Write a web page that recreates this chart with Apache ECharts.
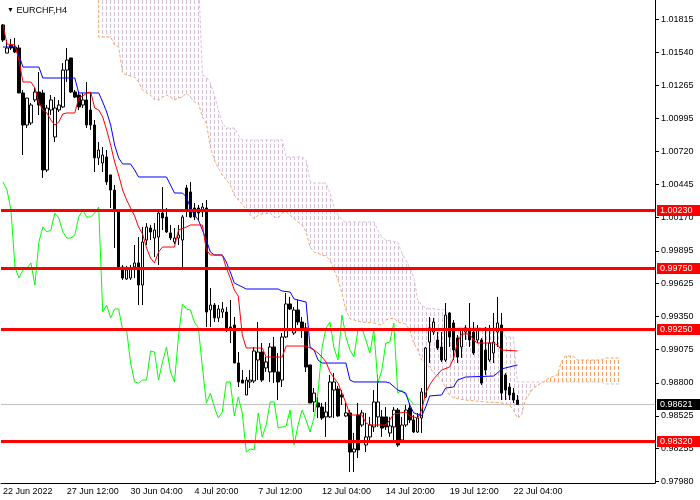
<!DOCTYPE html>
<html>
<head>
<meta charset="utf-8">
<title>EURCHF,H4</title>
<script src="https://cdn.jsdelivr.net/npm/echarts@6/dist/echarts.min.js"></script>
<style>
html,body{margin:0;padding:0;background:#fff;}
#main{width:700px;height:500px;}
</style>
</head>
<body>
<div id="main"></div>
<script>
var symbolName = 'EURCHF,H4';
var slotCount = 164;
var labelStep = 16;
var timeLabels = ['22 Jun 2022', '27 Jun 12:00', '30 Jun 04:00', '4 Jul 20:00', '7 Jul 12:00',
	'12 Jul 04:00', '14 Jul 20:00', '19 Jul 12:00', '22 Jul 04:00'];
var priceTicks = [1.01815, 1.01540, 1.01265, 1.00995, 1.00720, 1.00445, 1.00170, 0.99895,
	0.99625, 0.99350, 0.99075, 0.98800, 0.98525, 0.98255, 0.97980];
var priceMin = 0.97969;
var priceMax = 1.01975;
var levels = [1.00230, 0.99750, 0.99250, 0.98320];
var lastPrice = 0.98621;
var chikouShift = 26;

// [open, close, low, high]
var ohlc = [
	[1.01768, 1.01643, 1.01627, 1.01776], [1.01535, 1.01577, 1.01535, 1.01643], [1.01602, 1.01577, 1.01560, 1.01652], [1.01585, 1.01544, 1.01535, 1.01660], [1.01577, 1.01204, 1.01204, 1.01602],
	[1.01204, 1.00938, 1.00689, 1.01229], [1.00938, 1.01162, 1.00913, 1.01162], [1.00955, 1.01104, 1.00938, 1.01121], [1.01146, 1.01212, 1.01129, 1.01245], [1.01212, 1.01104, 1.01021, 1.01378],
	[1.01204, 1.00565, 1.00499, 1.01229], [1.00565, 1.01079, 1.00548, 1.01104], [1.01063, 1.01146, 1.01021, 1.01187], [1.00839, 1.01079, 1.00797, 1.01170], [1.01063, 1.01104, 1.01046, 1.01146],
	[1.01088, 1.01394, 1.01079, 1.01452], [1.01394, 1.01477, 1.01295, 1.01577], [1.01494, 1.01212, 1.01204, 1.01494], [1.01212, 1.01170, 1.01162, 1.01229], [1.01187, 1.01088, 1.01063, 1.01212],
	[1.01104, 1.01146, 1.01079, 1.01204], [1.01146, 1.00938, 1.00913, 1.01295], [1.01063, 1.00938, 1.00897, 1.01204], [1.00938, 1.00665, 1.00548, 1.00980], [1.00665, 1.00731, 1.00607, 1.00797],
	[1.00623, 1.00689, 1.00548, 1.00756], [1.00673, 1.00466, 1.00441, 1.00731], [1.00524, 1.00399, 1.00250, 1.00524], [1.00399, 1.00233, 0.99918, 1.00441], [1.00233, 0.99761, 0.99752, 1.00233],
	[0.99761, 0.99669, 0.99653, 0.99777], [0.99661, 0.99736, 0.99653, 0.99769], [0.99669, 0.99752, 0.99653, 0.99777], [0.99761, 0.99794, 0.99669, 0.99943], [0.99794, 0.99611, 0.99445, 1.00009],
	[0.99611, 0.99968, 0.99445, 1.00092], [0.99984, 1.00092, 0.99943, 1.00125], [1.00084, 1.00051, 0.99984, 1.00109], [1.00001, 1.00067, 0.99843, 1.00125], [1.00009, 1.00208, 0.99777, 1.00217],
	[1.00208, 1.00167, 1.00067, 1.00424], [1.00175, 1.00051, 1.00043, 1.00250], [1.00043, 1.00001, 0.99984, 1.00109], [0.99968, 1.00001, 0.99951, 1.00084], [1.00001, 1.00026, 0.99943, 1.00109],
	[0.99984, 1.00175, 0.99761, 1.00192], [1.00416, 1.00233, 1.00175, 1.00441], [1.00383, 1.00175, 1.00167, 1.00466], [1.00250, 1.00175, 1.00150, 1.00291], [1.00250, 1.00208, 1.00150, 1.00275],
	[1.00217, 1.00258, 1.00175, 1.00291], [1.00250, 0.99387, 0.99263, 1.00316], [0.99404, 0.99445, 0.99263, 0.99586], [0.99445, 0.99338, 0.99304, 0.99462], [0.99338, 0.99412, 0.99304, 0.99445],
	[0.99387, 0.99412, 0.99338, 0.99470], [0.99387, 0.99238, 0.99221, 0.99429], [0.99263, 0.99238, 0.99130, 0.99487], [0.99279, 0.98964, 0.98964, 0.99346], [0.98964, 0.98807, 0.98765, 0.99055],
	[0.98823, 0.98798, 0.98798, 0.98906], [0.98699, 0.98823, 0.98699, 0.98848], [0.98807, 0.98823, 0.98757, 0.98906], [0.98815, 0.99064, 0.98798, 0.99097], [0.98989, 0.99055, 0.98823, 0.99304],
	[0.99055, 0.98823, 0.98807, 0.99130], [0.98923, 0.98973, 0.98890, 0.99014], [0.98890, 0.99097, 0.98807, 0.99130], [0.99097, 0.98890, 0.98798, 0.99180], [0.98890, 0.98807, 0.98657, 0.99047],
	[0.98823, 0.99180, 0.98765, 0.99213], [0.99180, 0.99454, 0.99172, 0.99545], [0.99454, 0.99412, 0.99404, 0.99512], [0.99213, 0.99404, 0.99197, 0.99429], [0.99404, 0.99304, 0.99279, 0.99487],
	[0.99304, 0.99255, 0.99172, 0.99346], [0.99255, 0.98931, 0.98890, 0.99296], [0.98948, 0.98633, 0.98633, 0.98948], [0.98641, 0.98715, 0.98558, 0.98757], [0.98633, 0.98599, 0.98508, 0.98682],
	[0.98599, 0.98508, 0.98492, 0.98633], [0.98517, 0.98558, 0.98351, 0.98641], [0.98517, 0.98807, 0.98508, 0.98865], [0.98740, 0.98807, 0.98508, 0.98881], [0.98749, 0.98525, 0.98517, 0.98773],
	[0.98699, 0.98682, 0.98616, 0.98740], [0.98525, 0.98550, 0.98517, 0.98633], [0.98550, 0.98226, 0.98060, 0.98574], [0.98226, 0.98251, 0.98060, 0.98384], [0.98533, 0.98243, 0.98176, 0.98633],
	[0.98450, 0.98550, 0.98434, 0.98574], [0.98284, 0.98351, 0.98226, 0.98550], [0.98351, 0.98450, 0.98326, 0.98517], [0.98434, 0.98641, 0.98392, 0.98740], [0.98517, 0.98641, 0.98434, 0.98865],
	[0.98517, 0.98425, 0.98351, 0.98574], [0.98517, 0.98434, 0.98409, 0.98599], [0.98384, 0.98442, 0.98351, 0.98517], [0.98434, 0.98574, 0.98326, 0.98599], [0.98574, 0.98284, 0.98268, 0.98591],
	[0.98326, 0.98450, 0.98301, 0.98517], [0.98450, 0.98574, 0.98434, 0.98616], [0.98591, 0.98492, 0.98467, 0.98633], [0.98492, 0.98392, 0.98384, 0.98533], [0.98392, 0.98508, 0.98384, 0.98550],
	[0.98508, 0.98724, 0.98384, 0.98757], [0.98682, 0.99089, 0.98674, 0.99097], [0.99138, 0.99255, 0.98964, 0.99346], [0.99221, 0.99304, 0.99197, 0.99338], [0.99155, 0.99089, 0.99072, 0.99221],
	[0.99097, 0.98989, 0.98973, 0.99221], [0.98989, 0.99362, 0.98973, 0.99462], [0.99379, 0.99180, 0.99097, 0.99387], [0.99296, 0.99072, 0.98989, 0.99321], [0.99172, 0.99014, 0.98964, 0.99197],
	[0.99097, 0.99238, 0.99006, 0.99255], [0.99221, 0.99255, 0.99155, 0.99279], [0.99238, 0.99155, 0.99097, 0.99462], [0.99221, 0.99047, 0.99031, 0.99304], [0.99155, 0.99238, 0.99130, 0.99279],
	[0.99155, 0.98798, 0.98782, 0.99172], [0.99072, 0.98906, 0.98865, 0.99263], [0.98989, 0.99130, 0.98973, 0.99279], [0.99047, 0.99138, 0.98964, 0.99379], [0.99221, 0.99296, 0.99097, 0.99512],
	[0.99279, 0.98715, 0.98657, 0.99379], [0.98865, 0.98740, 0.98657, 0.98881], [0.98765, 0.98699, 0.98657, 0.98798], [0.98715, 0.98657, 0.98633, 0.98757], [0.98657, 0.98621, 0.98616, 0.98699]
];

// tenkan-sen (red), [bar, price] at the line's vertices
var tenkan = [
	[0, 1.01768], [1, 1.01610], [3, 1.01602], [4, 1.01477], [5, 1.01295], [7, 1.01295], [8, 1.01245], [9, 1.01121],
	[10, 1.01063], [11, 1.01038], [12, 1.00980], [13, 1.00938], [14, 1.00963], [15, 1.01030], [16, 1.01038], [18, 1.01038],
	[19, 1.01162], [20, 1.01179], [21, 1.01204], [22, 1.01212], [23, 1.01079], [24, 1.01063], [25, 1.01005], [26, 1.00897],
	[27, 1.00772], [28, 1.00631], [29, 1.00524], [30, 1.00399], [31, 1.00316], [32, 1.00250], [33, 1.00184], [34, 1.00092],
	[35, 1.00034], [36, 0.99918], [37, 0.99835], [38, 0.99794], [39, 0.99885], [40, 0.99926], [43, 0.99926], [44, 1.00067],
	[46, 1.00092], [47, 1.00109], [50, 1.00109], [51, 0.99902], [52, 0.99860], [55, 0.99860], [56, 0.99752], [57, 0.99669],
	[58, 0.99570], [59, 0.99520], [60, 0.99197], [61, 0.99089], [65, 0.99089], [66, 0.99014], [70, 0.99014], [71, 0.99105],
	[76, 0.99105], [77, 0.99089], [78, 0.99072], [79, 0.99047], [80, 0.99014], [81, 0.98973], [82, 0.98890], [83, 0.98840],
	[84, 0.98798], [85, 0.98715], [86, 0.98633], [87, 0.98533], [90, 0.98533], [91, 0.98467], [92, 0.98450], [96, 0.98450],
	[97, 0.98492], [98, 0.98541], [101, 0.98558], [102, 0.98525], [104, 0.98508], [105, 0.98574], [106, 0.98715], [107, 0.98782],
	[108, 0.98832], [110, 0.98906], [112, 0.98931], [113, 0.99006], [114, 0.99138], [115, 0.99205], [117, 0.99205], [118, 0.99155],
	[119, 0.99130], [123, 0.99130], [124, 0.99114], [125, 0.99072], [129, 0.99064]
];

// kijun-sen (blue)
var kijun = [
	[0, 1.01585], [3, 1.01585], [4, 1.01519], [5, 1.01419], [9, 1.01419], [10, 1.01328], [18, 1.01328], [19, 1.01204],
	[24, 1.01204], [25, 1.01129], [26, 1.01046], [27, 1.00938], [28, 1.00772], [29, 1.00665], [30, 1.00615], [32, 1.00615],
	[33, 1.00565], [34, 1.00507], [41, 1.00507], [42, 1.00441], [43, 1.00374], [45, 1.00374], [46, 1.00341], [47, 1.00250],
	[48, 1.00192], [49, 1.00150], [50, 1.00067], [51, 0.99984], [52, 0.99885], [53, 0.99860], [55, 0.99860], [56, 0.99802],
	[57, 0.99719], [58, 0.99628], [59, 0.99611], [60, 0.99595], [61, 0.99578], [69, 0.99578], [70, 0.99561], [72, 0.99553],
	[73, 0.99495], [76, 0.99470], [77, 0.99097], [78, 0.99072], [79, 0.98989], [80, 0.98964], [86, 0.98964], [87, 0.98823],
	[88, 0.98807], [96, 0.98807], [97, 0.98798], [99, 0.98740], [101, 0.98715], [102, 0.98616], [103, 0.98550], [105, 0.98525],
	[106, 0.98599], [107, 0.98691], [110, 0.98699], [111, 0.98757], [113, 0.98765], [114, 0.98823], [116, 0.98848], [123, 0.98856],
	[124, 0.98881], [125, 0.98915], [129, 0.98948]
];

// senkou span A (sandy brown edge), shifted forward
var spanA = [
	[24, 1.02182], [24, 1.01668], [27, 1.01668], [28, 1.01602], [29, 1.01585], [30, 1.01370], [31, 1.01353], [33, 1.01336],
	[34, 1.01295], [35, 1.01229], [36, 1.01204], [37, 1.01187], [38, 1.01146], [39, 1.01146], [40, 1.01170], [41, 1.01187],
	[42, 1.01170], [43, 1.01146], [44, 1.01162], [45, 1.01170], [46, 1.01204], [47, 1.01170], [48, 1.01129], [49, 1.01121],
	[50, 1.01005], [51, 1.00955], [52, 1.00756], [53, 1.00648], [54, 1.00582], [55, 1.00524], [56, 1.00482], [57, 1.00441],
	[58, 1.00358], [59, 1.00316], [60, 1.00283], [61, 1.00233], [62, 1.00192], [63, 1.00159], [64, 1.00192], [65, 1.00200],
	[67, 1.00208], [68, 1.00175], [69, 1.00167], [70, 1.00208], [71, 1.00217], [72, 1.00192], [73, 1.00159], [74, 1.00134],
	[75, 1.00109], [76, 1.00051], [77, 0.99926], [78, 0.99885], [80, 0.99860], [81, 0.99852], [82, 0.99819], [83, 0.99736],
	[84, 0.99653], [85, 0.99545], [86, 0.99404], [87, 0.99329], [90, 0.99304], [93, 0.99296], [95, 0.99279], [96, 0.99321],
	[98, 0.99338], [99, 0.99304], [101, 0.99288], [102, 0.99238], [103, 0.99130], [104, 0.99072], [105, 0.98989], [107, 0.98931],
	[108, 0.98881], [110, 0.98823], [111, 0.98757], [112, 0.98699], [113, 0.98674], [116, 0.98657], [121, 0.98641], [125, 0.98633],
	[127, 0.98616], [128, 0.98574], [129, 0.98508], [130, 0.98533], [131, 0.98657], [133, 0.98757], [135, 0.98798], [137, 0.98840],
	[139, 0.98865], [140, 0.98973], [141, 0.99022], [143, 0.99022], [144, 0.98989], [150, 0.98989], [151, 0.99006], [155, 0.99006]
];

// senkou span B (thistle edge)
var spanB = [
	[24, 1.02182], [49, 1.02182], [50, 1.01353], [51, 1.01336], [52, 1.01287], [53, 1.01187], [54, 1.01063], [55, 1.00955],
	[56, 1.00913], [58, 1.00913], [59, 1.00855], [60, 1.00814], [70, 1.00814], [71, 1.00673], [75, 1.00673], [76, 1.00648],
	[77, 1.00474], [78, 1.00457], [81, 1.00457], [82, 1.00374], [83, 1.00258], [84, 1.00192], [85, 1.00150], [86, 1.00134],
	[93, 1.00134], [94, 1.00067], [95, 1.00009], [96, 0.99984], [99, 0.99968], [100, 0.99877], [101, 0.99819], [102, 0.99752],
	[103, 0.99677], [104, 0.99487], [105, 0.99445], [106, 0.99420], [111, 0.99404], [112, 0.99263], [125, 0.99255], [126, 0.99180],
	[128, 0.99180], [129, 0.98807], [135, 0.98807], [150, 0.98807], [151, 0.98790], [155, 0.98790]
];
var cloudTwist = 135;

var fontName = 'Liberation Sans';

/**
 * x axis categories, only every labelStep-th bar carries a date
 */
function buildCategories(){
	var cats = new Array();
	for (var i = 0; i < slotCount; i++) {
		var k = i / labelStep;
		if (i % labelStep == 0 && typeof(timeLabels[k]) != 'undefined') {
			cats.push(timeLabels[k]);
		} else {
			cats.push('');
		}
	}
	return cats;
}

/**
 * dotted vertical hatch used to fill the cloud
 */
function makeHatch(color){
	var c = document.createElement('canvas');
	c.width = 4;
	c.height = 6;
	var ctx = c.getContext('2d');
	ctx.fillStyle = color;
	ctx.fillRect(2, 0, 1, 4);
	return c;
}

function pickRange(list, from, to){
	var out = new Array();
	for (var i = 0; i < list.length; i++) {
		if (list[i][0] >= from && list[i][0] <= to) {
			out.push(list[i]);
		}
	}
	return out;
}

function cloudSeries(from, to, color){
	var upper = pickRange(spanA, from, to);
	var lower = pickRange(spanB, from, to).reverse();
	var hatch = makeHatch(color);
	return {
		type: 'custom',
		z: 1,
		silent: true,
		data: [[from, lastPrice]],
		renderItem: function(params, api){
			var pts = new Array();
			for (var i = 0; i < upper.length; i++) pts.push(api.coord(upper[i]));
			for (var j = 0; j < lower.length; j++) pts.push(api.coord(lower[j]));
			return {
				type: 'polygon',
				shape: { points: pts },
				style: { fill: { image: hatch, repeat: 'repeat' }, stroke: null }
			};
		}
	};
}

/**
 * horizontal price level across the plot with its price box on the scale
 */
function levelSeries(values, lineColor, boxColor, width, z){
	var data = new Array();
	for (var i = 0; i < values.length; i++) data.push([0, values[i]]);
	return {
		type: 'custom',
		z: z,
		silent: true,
		clip: false,
		data: data,
		renderItem: function(params, api){
			var v = api.value(1);
			var y = Math.round(api.coord([0, v])[1]);
			var ly = width % 2 == 1 ? y + 0.5 : y;
			var cs = params.coordSys;
			var right = cs.x + cs.width;
			return {
				type: 'group',
				children: [
					{ type: 'line', shape: { x1: cs.x, y1: ly, x2: right, y2: ly },
						style: { stroke: lineColor, lineWidth: width } },
					{ type: 'rect', shape: { x: right + 2, y: y - 5, width: 43, height: 11 },
						style: { fill: boxColor } },
					{ type: 'text', style: { x: right + 5, y: y + 1, text: v.toFixed(5), fill: '#ffffff',
						font: '9px "' + fontName + '"', verticalAlign: 'middle', align: 'left' } }
				]
			};
		}
	};
}

var chikou = new Array();
for (var i = chikouShift; i < ohlc.length; i++) {
	chikou.push([i - chikouShift, ohlc[i][1]]);
}

function lineSeries(data, color, z, dash){
	return {
		type: 'line',
		data: data,
		z: z,
		silent: true,
		showSymbol: false,
		symbol: 'none',
		lineStyle: { color: color, width: 1, type: dash ? dash : 'solid' }
	};
}

var myChart = echarts.init(document.getElementById('main'));

var option = {
	animation: false,
	backgroundColor: '#ffffff',
	title: {
		left: 2,
		top: 1,
		text: '{t|\u25BC} ' + symbolName,
		textStyle: {
			fontFamily: fontName,
			fontSize: 9,
			fontWeight: 'normal',
			color: '#000000',
			rich: { t: { fontSize: 7, color: '#000000' } }
		}
	},
	grid: { left: 0, right: 45, top: 0, bottom: 17 },
	xAxis: {
		type: 'category',
		data: buildCategories(),
		boundaryGap: true,
		axisLine: { lineStyle: { color: '#000000', width: 1 } },
		axisTick: {
			alignWithLabel: true,
			length: 4,
			lineStyle: { color: '#000000' },
			interval: function(idx, val){ return val !== ''; }
		},
		axisLabel: {
			interval: function(idx, val){ return val !== ''; },
			align: 'left',
			margin: 4,
			color: '#000000',
			fontFamily: fontName,
			fontSize: 9
		},
		splitLine: { show: false }
	},
	yAxis: {
		type: 'value',
		position: 'right',
		min: priceMin,
		max: priceMax,
		axisLine: { show: true, lineStyle: { color: '#000000', width: 1 } },
		axisTick: { show: true, length: 4, customValues: priceTicks, lineStyle: { color: '#000000' } },
		axisLabel: {
			customValues: priceTicks,
			margin: 6,
			color: '#000000',
			fontFamily: fontName,
			fontSize: 9,
			formatter: function(v){ return v.toFixed(5); }
		},
		splitLine: { show: false }
	},
	series: [
		levelSeries([lastPrice], '#c0c0c0', '#000000', 1, 0),
		cloudSeries(24, cloudTwist, '#d8bfd8'),
		cloudSeries(cloudTwist, 155, '#f4a460'),
		lineSeries(spanA, '#f4a460', 2, [3, 2]),
		lineSeries(spanB, '#d8bfd8', 2, [3, 2]),
		{
			type: 'candlestick',
			data: ohlc,
			z: 3,
			silent: true,
			barWidth: 3,
			itemStyle: {
				color: '#ffffff',
				color0: '#000000',
				borderColor: '#000000',
				borderColor0: '#000000',
				borderWidth: 1
			}
		},
		lineSeries(chikou, '#00ff00', 4),
		lineSeries(kijun, '#0000ff', 4),
		lineSeries(tenkan, '#ff0000', 4),
		levelSeries(levels, '#ff0000', '#ff0000', 3, 5)
	]
};
myChart.setOption(option);
</script>
</body>
</html>
